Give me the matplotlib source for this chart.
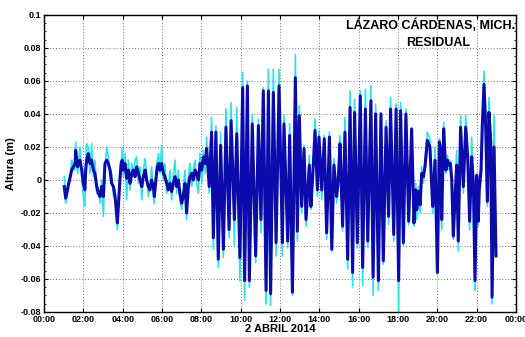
import matplotlib
matplotlib.use("Agg")
import matplotlib.pyplot as plt
from matplotlib.ticker import MultipleLocator

plt.rcParams['font.family'] = ['Liberation Sans', 'DejaVu Sans']
plt.rcParams['font.weight'] = 'bold'

# hours of 2 April 2014
horas = [1.03, 1.10, 1.24, 1.41, 1.58, 1.61, 1.71, 1.83, 1.92, 2.00,
         2.08, 2.12, 2.17, 2.25, 2.34, 2.42, 2.51, 2.59, 2.68, 2.76,
         2.85, 2.93, 3.02, 3.10, 3.19, 3.27, 3.36, 3.44, 3.53, 3.61,
         3.66, 3.73, 3.78, 3.86, 3.92, 3.98, 4.03, 4.12, 4.20, 4.29,
         4.37, 4.46, 4.54, 4.63, 4.71, 4.80, 4.88, 4.97, 5.05, 5.14,
         5.22, 5.30, 5.39, 5.47, 5.56, 5.61, 5.69, 5.76, 5.83, 5.90,
         5.98, 6.07, 6.15, 6.24, 6.32, 6.41, 6.49, 6.58, 6.66, 6.75,
         6.83, 6.91, 7.00, 7.08, 7.17, 7.25, 7.34, 7.42, 7.51, 7.59,
         7.68, 7.76, 7.85, 7.93, 8.02, 8.10, 8.19, 8.27, 8.40, 8.52,
         8.61, 8.74, 8.86, 8.98, 9.12, 9.25, 9.41, 9.51, 9.68, 9.80,
         9.96, 10.10, 10.20, 10.34, 10.44, 10.59, 10.76, 10.90, 11.03, 11.15,
         11.29, 11.41, 11.52, 11.66, 11.80, 11.95, 12.12, 12.20, 12.39, 12.49,
         12.63, 12.78, 12.88, 12.98, 13.10, 13.22, 13.32, 13.49, 13.57, 13.66,
         13.78, 13.90, 13.98, 14.12, 14.25, 14.37, 14.51, 14.63, 14.74, 14.88,
         14.96, 15.05, 15.18, 15.30, 15.44, 15.56, 15.69, 15.79, 15.93, 16.08,
         16.20, 16.34, 16.46, 16.62, 16.73, 16.86, 17.00, 17.13, 17.25, 17.39,
         17.52, 17.62, 17.78, 17.90, 18.03, 18.13, 18.27, 18.40, 18.54, 18.69,
         18.81, 18.90, 18.95, 19.03, 19.12, 19.20, 19.29, 19.37, 19.49, 19.62,
         19.76, 19.88, 20.00, 20.10, 20.17, 20.22, 20.32, 20.39, 20.44, 20.51,
         20.59, 20.66, 20.73, 20.81, 20.90, 20.98, 21.06, 21.18, 21.32, 21.44,
         21.54, 21.64, 21.74, 21.83, 21.91, 22.00, 22.08, 22.13, 22.22, 22.28,
         22.37, 22.45, 22.54, 22.62, 22.71, 22.78, 22.88, 22.98]

# filtered residual (m)
residual = [-0.004, -0.011, -0.003, 0.006, 0.010, 0.018, 0.008, 0.012, 0.006, -0.002,
            -0.006, 0.006, 0.012, 0.016, 0.010, 0.012, 0.006, 0.004, -0.004, -0.008,
            -0.010, -0.004, -0.010, 0.010, 0.012, 0.010, 0.006, -0.002, -0.004, -0.010,
            -0.016, -0.026, -0.016, 0.000, 0.010, 0.012, 0.006, 0.010, 0.001, 0.006,
            -0.002, 0.004, 0.006, 0.002, 0.008, 0.004, 0.000, -0.004, 0.002, 0.006,
            0.000, -0.004, -0.006, 0.000, -0.004, -0.010, 0.000, 0.008, 0.010, 0.006,
            0.010, 0.004, 0.002, -0.002, -0.006, -0.002, -0.007, -0.002, 0.002, -0.004,
            0.000, -0.008, -0.014, -0.010, -0.002, -0.020, -0.004, 0.002, 0.004, 0.000,
            0.006, 0.004, 0.000, 0.010, 0.006, 0.014, 0.010, 0.019, -0.004, 0.029,
            -0.035, 0.029, -0.048, 0.021, -0.042, 0.032, -0.030, 0.036, -0.024, 0.028,
            -0.047, 0.056, -0.061, 0.057, -0.061, 0.034, -0.046, 0.033, -0.024, 0.054,
            -0.067, 0.054, -0.069, 0.053, -0.038, 0.057, -0.038, 0.034, -0.037, 0.027,
            -0.068, 0.062, -0.031, 0.039, -0.016, 0.019, -0.024, 0.009, -0.016, 0.002,
            0.030, -0.006, 0.026, -0.006, 0.025, -0.032, 0.026, -0.042, 0.009, -0.010,
            0.000, 0.022, -0.028, 0.029, -0.048, 0.044, -0.056, 0.041, -0.038, 0.051,
            -0.053, 0.043, -0.037, 0.048, -0.059, 0.040, -0.061, 0.040, -0.049, 0.032,
            -0.022, 0.043, -0.033, 0.043, -0.061, 0.042, -0.038, 0.040, -0.025, 0.031,
            -0.026, -0.006, -0.018, -0.007, -0.015, 0.004, 0.002, 0.008, 0.024, 0.020,
            -0.016, 0.012, -0.056, 0.023, 0.018, -0.024, 0.031, 0.014, 0.006, 0.012,
            0.009, 0.010, 0.000, -0.034, -0.010, 0.009, -0.037, 0.032, -0.004, 0.032,
            0.014, -0.025, 0.014, -0.002, -0.061, 0.003, -0.025, -0.006, 0.006, 0.032,
            0.058, 0.034, -0.013, 0.041, 0.024, -0.071, 0.020, -0.046]

# unfiltered residual (m)
residual_crudo = [0.002, -0.014, -0.006, 0.012, 0.006, 0.023, 0.004, 0.020, 0.002, -0.010,
                  -0.016, 0.010, 0.022, 0.020, 0.004, 0.022, 0.002, 0.012, -0.008, -0.004,
                  -0.014, 0.000, -0.022, 0.006, 0.020, 0.014, 0.002, 0.004, -0.010, -0.006,
                  -0.018, -0.030, -0.014, 0.004, 0.008, 0.020, 0.002, 0.016, -0.012, 0.012,
                  -0.006, 0.010, 0.002, 0.012, 0.014, -0.002, 0.008, -0.012, 0.006, 0.013,
                  0.004, -0.010, -0.004, 0.008, -0.008, -0.014, 0.004, 0.012, 0.016, 0.004,
                  0.021, 0.000, 0.010, -0.008, -0.004, 0.006, -0.012, 0.004, 0.012, -0.008,
                  0.006, -0.012, -0.018, -0.004, 0.006, -0.024, 0.002, 0.010, -0.004, 0.006,
                  0.012, -0.002, -0.008, 0.016, -0.002, 0.018, 0.004, 0.026, -0.008, 0.038,
                  -0.042, 0.033, -0.053, 0.029, -0.047, 0.043, -0.035, 0.047, -0.040, 0.044,
                  -0.061, 0.065, -0.073, 0.060, -0.065, 0.040, -0.050, 0.037, -0.032, 0.056,
                  -0.075, 0.067, -0.076, 0.067, -0.046, 0.067, -0.046, 0.039, -0.041, 0.034,
                  -0.070, 0.076, -0.037, 0.045, -0.020, 0.021, -0.028, 0.015, -0.018, 0.000,
                  0.037, -0.010, 0.030, -0.012, 0.027, -0.036, 0.029, -0.043, 0.013, -0.014,
                  0.002, 0.027, -0.031, 0.038, -0.054, 0.054, -0.065, 0.049, -0.041, 0.054,
                  -0.064, 0.055, -0.041, 0.057, -0.070, 0.046, -0.067, 0.041, -0.051, 0.036,
                  -0.027, 0.050, -0.037, 0.046, -0.080, 0.047, -0.040, 0.043, -0.027, 0.031,
                  -0.028, -0.002, -0.024, -0.004, -0.020, 0.008, -0.002, 0.012, 0.029, 0.025,
                  -0.020, 0.020, -0.057, 0.025, 0.014, -0.030, 0.035, 0.010, 0.004, 0.015,
                  0.006, 0.012, -0.002, -0.036, -0.008, 0.018, -0.043, 0.039, -0.008, 0.039,
                  0.012, -0.030, 0.026, 0.000, -0.067, 0.002, -0.028, -0.004, 0.010, 0.035,
                  0.066, 0.032, -0.016, 0.050, 0.022, -0.075, 0.039, -0.046]

ticks_horas = [0, 2, 4, 6, 8, 10, 12, 14, 16, 18, 20, 22, 24]
etiquetas_horas = ['00:00', '02:00', '04:00', '06:00', '08:00', '10:00', '12:00',
                   '14:00', '16:00', '18:00', '20:00', '22:00', '00:00']
ticks_altura = [-0.08, -0.06, -0.04, -0.02, 0, 0.02, 0.04, 0.06, 0.08, 0.1]
etiquetas_altura = ['-0.08', '-0.06', '-0.04', '-0.02', '0', '0.02', '0.04', '0.06', '0.08', '0.1']

fig = plt.figure(figsize=(5.25, 3.37), dpi=100)
ax = fig.add_axes([0.0838, 0.0742, 0.8992, 0.8813])

ax.plot(horas, residual_crudo, color='#2ae3e8', linewidth=1.2)
ax.plot(horas, residual, color='#0b0bab', linewidth=2.2)

ax.set_xlim(0, 24)
ax.set_ylim(-0.08, 0.1)
ax.set_xticks(ticks_horas)
ax.set_xticklabels(etiquetas_horas)
ax.set_yticks(ticks_altura)
ax.set_yticklabels(etiquetas_altura)
ax.yaxis.set_minor_locator(MultipleLocator(0.005))

ax.tick_params(which='both', direction='in', top=True, right=True, labelsize=6.5, pad=2)
ax.tick_params(which='major', length=3)
ax.tick_params(which='minor', length=1.5)
ax.grid(True, which='major', linestyle=(0, (1, 2.5)), color='#444444', linewidth=0.6)
for s in ax.spines.values():
    s.set_linewidth(1.0)

ax.set_xlabel('2 ABRIL 2014', fontsize=8, fontweight='bold', labelpad=0)
ax.set_ylabel('Altura (m)', fontsize=8, fontweight='bold', labelpad=3)

# station name and series name in the upper right corner
ax.text(0.818, 0.966, 'LÁZARO CÁRDENAS, MICH.', transform=ax.transAxes,
        ha='center', va='center', fontsize=9, fontweight='bold')
ax.text(0.835, 0.906, 'RESIDUAL', transform=ax.transAxes,
        ha='center', va='center', fontsize=9, fontweight='bold')

fig.savefig('out.png', dpi=100)
